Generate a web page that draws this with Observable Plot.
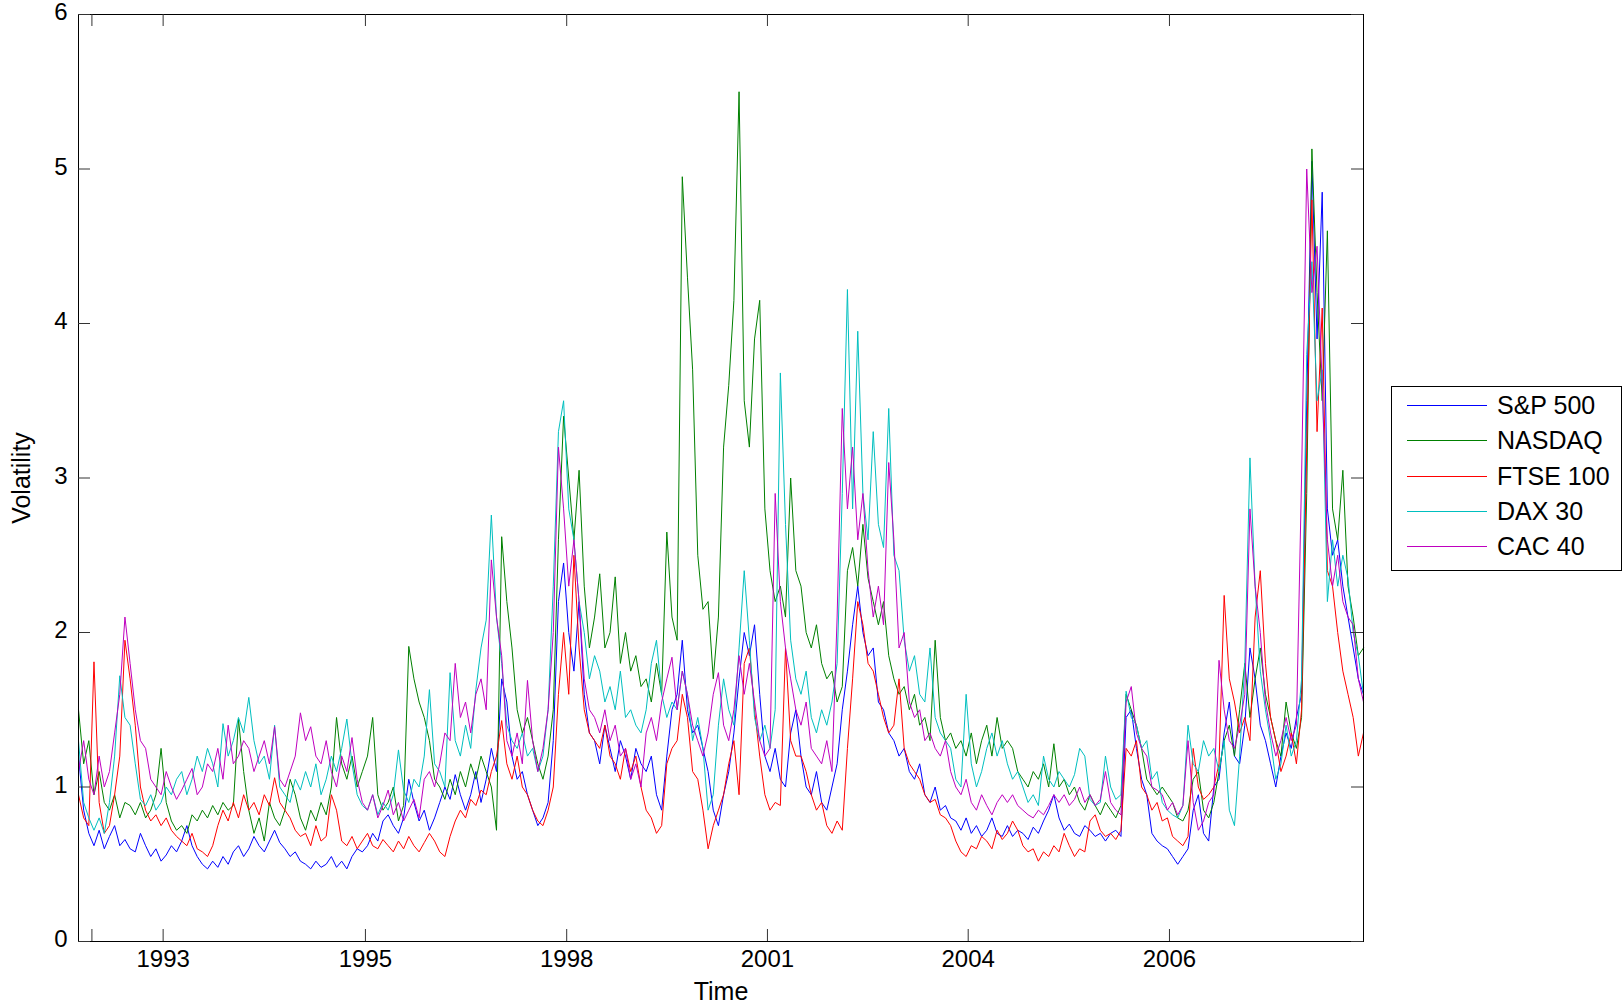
<!DOCTYPE html>
<html>
<head>
<meta charset="utf-8">
<script src="https://cdn.jsdelivr.net/npm/d3@7"></script>
<script src="https://cdn.jsdelivr.net/npm/@observablehq/plot@0.6"></script>
<style>
html, body { margin: 0; padding: 0; background: #fff; }
#wrap { position: relative; width: 1624px; height: 1006px; font-family: "Liberation Sans", Arial, Helvetica, sans-serif; }
#legend { position: absolute; left: 1391px; top: 386px; width: 231px; height: 185px; border: 1px solid #000; box-sizing: border-box; background: #fff; }
.item { position: absolute; left: 0; display: flex; align-items: center; font-size: 25px; color: #000; white-space: nowrap; }
.item svg { display: block; }
</style>
</head>
<body>
<div id="wrap"><div id="chart"></div><div id="legend"></div></div>
<script>
// ---- data (volatility, one sample every ~5 px of the original time axis) ----
const seriesNames = ["S&P 500", "NASDAQ", "FTSE 100", "DAX 30", "CAC 40"];
const seriesColors = ["#0000ff", "#008000", "#ff0000", "#00bfbf", "#bf00bf"];

const sp500 = [
1.2,0.85,0.7,0.62,0.72,0.6,0.68,0.75,0.62,0.66,
0.6,0.58,0.7,0.62,0.55,0.6,0.52,0.56,0.62,0.58,
0.65,0.75,0.62,0.55,0.5,0.47,0.52,0.48,0.55,0.5,
0.58,0.62,0.55,0.6,0.68,0.62,0.58,0.65,0.72,0.64,
0.6,0.55,0.58,0.52,0.5,0.47,0.52,0.48,0.5,0.55,
0.48,0.52,0.47,0.55,0.6,0.58,0.62,0.7,0.65,0.78,
0.82,0.75,0.7,0.8,1.05,0.9,0.78,0.85,0.72,0.8,
0.9,1.0,0.92,1.08,0.95,0.85,0.95,1.1,0.9,1.05,
1.25,1.1,1.7,1.55,1.2,1.05,1.1,0.95,0.85,0.75,
0.8,0.9,1.3,2.2,2.45,2.0,1.75,2.2,1.6,1.35,
1.3,1.15,1.4,1.25,1.1,1.3,1.2,1.05,1.25,1.15,
1.1,1.2,0.95,0.85,1.2,1.5,1.6,1.95,1.5,1.35,
1.4,1.25,1.1,0.85,0.75,0.95,1.1,1.35,1.7,2.0,
1.85,2.05,1.6,1.2,1.1,1.25,1.05,1.0,1.35,1.5,
1.2,1.0,0.95,1.1,0.9,0.85,1.0,1.15,1.5,1.75,
2.05,2.3,2.0,1.85,1.9,1.55,1.5,1.35,1.3,1.2,
1.25,1.1,1.05,1.15,0.95,0.9,1.0,0.85,0.88,0.8,
0.78,0.72,0.8,0.7,0.75,0.68,0.72,0.8,0.7,0.68,
0.75,0.68,0.72,0.7,0.66,0.74,0.7,0.78,0.85,0.95,
0.8,0.72,0.76,0.7,0.68,0.75,0.72,0.68,0.7,0.65,
0.7,0.72,0.68,1.45,1.5,1.25,1.05,0.95,0.7,0.65,
0.62,0.6,0.55,0.5,0.55,0.6,0.85,0.95,0.7,0.65,
1.0,1.05,1.35,1.55,1.2,1.15,1.4,1.9,1.7,1.4,
1.3,1.15,1.0,1.2,1.35,1.25,1.45,1.6,3.5,5.05,
3.9,4.85,2.8,2.5,2.6,2.3,2.1,1.9,1.7,1.6
];

const nasdaq = [
1.5,1.15,1.3,0.95,1.1,0.9,0.85,0.95,0.8,0.9,
0.88,0.82,0.9,0.8,0.85,0.95,1.25,0.9,0.78,0.72,
0.75,0.7,0.82,0.78,0.85,0.8,0.88,0.82,0.9,0.85,
0.88,1.44,1.1,0.85,0.7,0.8,0.65,0.9,0.8,0.75,
0.85,1.05,0.95,0.8,0.72,0.85,0.78,0.9,0.82,1.0,
1.45,1.15,1.05,1.2,1.0,1.1,1.2,1.45,0.95,0.85,
0.9,1.0,0.78,0.88,1.91,1.7,1.55,1.45,1.3,1.05,
1.0,0.92,1.05,0.95,1.1,1.0,1.15,1.05,1.2,1.1,
1.0,0.72,2.62,2.2,1.9,1.5,1.35,1.45,1.3,1.15,
1.05,1.2,1.5,2.6,3.4,3.0,2.6,3.05,2.3,1.9,
2.1,2.38,1.9,2.0,2.36,1.8,2.0,1.75,1.85,1.65,
1.7,1.55,1.8,1.6,2.65,2.1,1.95,4.95,4.3,3.7,
2.5,2.15,2.2,1.7,2.1,3.2,3.6,4.15,5.5,3.5,
3.2,3.9,4.15,2.8,2.4,2.2,2.3,2.1,3.0,2.4,
2.3,2.0,1.9,2.05,1.8,1.7,1.75,1.55,1.65,2.4,
2.55,2.3,2.7,2.35,2.2,2.05,2.2,1.85,1.7,1.6,
1.65,1.5,1.6,1.4,1.45,1.3,1.95,1.45,1.3,1.35,
1.25,1.3,1.2,1.35,1.15,1.3,1.4,1.2,1.45,1.25,
1.3,1.25,1.1,1.05,1.0,1.1,1.05,1.15,1.0,1.28,
1.0,1.05,0.95,1.0,0.9,0.85,0.95,0.88,0.82,0.9,
0.85,0.8,0.88,1.6,1.5,1.4,1.25,1.05,1.0,0.95,
1.0,0.95,0.9,0.8,0.78,0.85,1.05,1.1,0.85,0.8,
0.9,1.1,1.3,1.4,1.2,1.5,1.8,1.45,1.7,1.9,
1.6,1.45,1.3,1.2,1.55,1.35,1.25,1.45,2.9,5.13,
4.2,3.5,4.6,2.8,2.6,3.05,2.3,2.1,1.85,1.9
];

const ftse100 = [
0.95,0.8,0.75,1.81,0.9,0.7,0.75,0.95,1.2,1.95,
1.7,1.4,1.0,0.85,0.78,0.82,0.75,0.8,0.72,0.68,
0.65,0.62,0.7,0.6,0.58,0.55,0.62,0.75,0.85,0.78,
0.9,0.8,0.95,0.85,0.9,0.82,0.95,0.88,1.06,0.9,
0.85,0.8,0.72,0.68,0.7,0.62,0.75,0.65,0.68,0.95,
0.85,0.65,0.62,0.68,0.6,0.65,0.7,0.62,0.6,0.66,
0.62,0.58,0.65,0.6,0.68,0.62,0.58,0.64,0.7,0.65,
0.58,0.55,0.68,0.78,0.85,0.8,0.92,0.88,0.98,0.95,
1.1,1.2,1.43,1.15,1.05,1.2,1.0,0.95,0.85,0.78,
0.75,0.85,1.0,1.6,2.0,1.6,2.5,1.9,1.5,1.35,
1.3,1.25,1.4,1.2,1.15,1.05,1.25,1.1,1.2,1.0,
0.85,0.8,0.7,0.75,1.15,1.25,1.3,1.6,1.45,1.1,
1.05,0.85,0.6,0.75,0.85,0.95,1.15,1.3,0.95,1.8,
1.9,1.5,1.2,0.95,0.85,0.9,0.88,1.9,1.3,1.2,
1.2,1.1,0.95,0.85,0.9,0.75,0.7,0.78,0.72,1.25,
1.7,2.2,2.05,1.8,1.75,1.6,1.45,1.35,1.4,1.7,
1.25,1.15,1.1,1.05,0.95,0.9,0.92,0.82,0.8,0.75,
0.65,0.58,0.55,0.62,0.6,0.68,0.65,0.6,0.72,0.66,
0.7,0.78,0.72,0.62,0.58,0.6,0.52,0.58,0.55,0.62,
0.58,0.7,0.62,0.55,0.6,0.58,0.78,0.82,0.72,0.68,
0.7,0.66,0.72,1.25,1.2,1.3,1.0,0.95,0.85,0.9,
0.78,0.8,0.68,0.65,0.62,0.68,1.25,1.0,0.92,0.95,
1.0,1.15,2.24,1.7,1.55,1.35,1.45,1.3,2.1,2.4,
1.8,1.45,1.3,1.1,1.2,1.35,1.15,1.5,3.2,4.8,
3.3,4.1,2.4,2.3,2.0,1.75,1.6,1.45,1.2,1.35
];

const dax30 = [
1.3,0.9,0.8,0.72,0.8,0.7,0.9,1.2,1.72,1.45,
1.4,1.15,0.92,0.88,0.95,0.85,0.9,1.0,0.95,1.05,
1.1,0.95,1.05,1.2,1.1,1.25,1.15,1.0,1.41,1.2,
1.3,1.45,1.35,1.58,1.3,1.15,1.2,1.05,1.4,1.0,
0.95,0.9,1.05,0.98,1.1,1.0,1.15,0.95,1.05,1.2,
1.1,1.25,1.44,1.15,0.95,0.88,0.85,0.95,0.82,0.9,
0.85,0.95,1.24,0.98,0.9,1.05,1.0,1.2,1.63,1.15,
1.1,1.0,1.74,1.3,1.2,1.4,1.25,1.63,1.9,2.08,
2.76,2.1,1.8,1.4,1.3,1.25,1.35,1.2,1.25,1.1,
1.2,1.5,2.3,3.3,3.5,2.8,2.6,2.2,2.0,1.7,
1.85,1.75,1.55,1.65,1.5,1.75,1.45,1.5,1.4,1.35,
1.5,1.8,1.95,1.6,1.45,1.55,1.5,1.75,1.6,1.3,
1.45,1.25,0.85,0.95,1.4,1.7,1.5,1.4,1.9,2.4,
1.95,1.45,1.3,1.4,1.25,1.5,3.68,2.7,1.95,1.7,
1.6,1.75,1.45,1.35,1.5,1.4,1.55,1.8,2.9,4.22,
2.8,3.95,2.9,2.6,3.3,2.7,2.55,3.45,2.5,2.4,
1.95,1.75,1.85,1.6,1.55,1.9,1.45,1.35,1.3,1.25,
1.05,1.0,1.6,1.15,1.0,1.1,1.25,1.35,1.2,1.3,
1.15,1.05,1.1,1.0,0.9,0.95,0.88,1.2,1.05,1.0,
1.1,1.05,1.0,1.08,1.25,1.2,0.92,0.88,0.9,1.2,
1.0,0.92,0.95,1.62,1.45,1.4,1.25,1.3,1.05,1.1,
0.9,0.85,0.82,0.8,0.88,1.4,1.15,1.1,1.3,1.2,
1.25,1.1,1.3,0.85,0.75,1.2,1.8,3.13,2.3,1.75,
1.5,1.3,1.05,1.15,1.4,1.2,1.3,1.7,3.8,4.4,
3.5,3.7,2.2,2.6,2.3,2.5,2.35,2.0,1.85,1.6
];

const cac40 = [
1.1,1.3,1.05,0.95,1.2,1.0,1.1,1.35,1.6,2.1,
1.8,1.5,1.3,1.25,1.05,1.0,0.95,1.1,1.0,0.92,
0.98,1.05,1.12,0.95,1.0,1.15,1.1,1.25,1.05,1.4,
1.15,1.2,1.3,1.25,1.1,1.2,1.3,1.15,1.39,1.05,
1.0,1.1,1.2,1.48,1.3,1.39,1.2,1.15,1.3,1.1,
1.0,1.2,1.1,1.32,1.05,0.9,0.85,0.95,0.8,0.88,
0.98,0.82,0.9,0.78,0.85,0.92,0.8,1.05,1.1,1.0,
1.15,1.35,1.3,1.8,1.45,1.55,1.35,1.6,1.7,1.5,
2.47,2.1,1.85,1.3,1.2,1.35,1.15,1.69,1.3,1.1,
1.25,1.5,2.0,3.2,2.8,2.3,2.6,2.2,1.7,1.5,
1.45,1.35,1.5,1.3,1.4,1.2,1.25,1.05,1.15,1.0,
1.35,1.45,1.3,1.55,1.7,1.84,1.5,1.75,1.6,1.4,
1.3,1.2,1.35,1.6,1.74,1.4,1.3,1.5,1.85,1.6,
1.8,1.55,1.3,1.2,1.25,2.9,2.2,1.9,1.7,1.5,
1.4,1.55,1.25,1.2,1.15,1.3,1.1,2.1,3.45,2.8,
3.2,2.6,2.9,2.4,2.1,2.3,2.05,3.1,2.6,1.9,
2.0,1.55,1.45,1.5,1.3,1.35,1.25,1.2,1.3,1.1,
1.0,0.95,1.05,0.9,0.85,0.95,0.88,0.82,0.9,0.95,
0.9,0.95,0.88,0.85,0.82,0.8,0.85,0.82,0.88,0.95,
0.9,0.95,0.88,0.92,1.0,0.9,0.95,0.88,0.92,1.1,
0.9,0.85,0.82,1.55,1.65,1.35,1.25,1.2,1.0,0.98,
0.95,0.85,0.9,0.82,0.88,1.3,0.9,0.72,0.78,0.9,
0.95,1.82,1.5,1.3,1.25,1.4,1.6,2.8,2.3,2.0,
1.55,1.35,1.2,1.3,1.45,1.3,1.4,3.0,5.0,4.2,
4.5,3.6,2.6,2.3,2.5,2.2,2.1,2.05,1.7,1.55
];

// x-axis ticks (positions in sample index) and labels
const xTickPos = [2.6, 16.4, 55.6, 94.6, 133.5, 172.4, 211.4];
const xTickLabels = ["", "1993", "1995", "1998", "2001", "2004", "2006"];
const yTicks = [0, 1, 2, 3, 4, 5, 6];
const xTitle = "Time";
const yTitle = "Volatility";

// ---- build ----
const allSeries = [sp500, nasdaq, ftse100, dax30, cac40];
const N = sp500.length;
const W = 1624, H = 1006;
const mL = 78, mR = 261, mT = 14, mB = 65;
const innerW = W - mL - mR, innerH = H - mT - mB;
const tickLen = 12;
const font = '"Liberation Sans", Arial, Helvetica, sans-serif';

const lineMarks = allSeries.map((vals, k) =>
  Plot.line(vals.map((v, i) => ({i, v})), {x: "i", y: "v", stroke: seriesColors[k], strokeWidth: 1})
);

const xTickData = xTickPos.map((p, k) => ({p, label: xTickLabels[k]}));

const chart = Plot.plot({
  width: W, height: H,
  marginLeft: mL, marginRight: mR, marginTop: mT, marginBottom: mB,
  x: {domain: [0, N - 1], axis: null},
  y: {domain: [0, 6], axis: null},
  style: {fontFamily: font, background: "#fff", overflow: "visible"},
  marks: [
    ...lineMarks,
    Plot.frame({stroke: "#000", strokeWidth: 1}),
    Plot.tickX(xTickPos, {x: d => d, insetTop: innerH - tickLen, stroke: "#333"}),
    Plot.tickX(xTickPos, {x: d => d, insetBottom: innerH - tickLen, stroke: "#333"}),
    Plot.tickY(yTicks, {y: d => d, insetRight: innerW - tickLen, stroke: "#333"}),
    Plot.tickY(yTicks, {y: d => d, insetLeft: innerW - tickLen, stroke: "#333"}),
    Plot.text(xTickData, {x: "p", text: "label", frameAnchor: "bottom", dy: 25, fontSize: 24, fill: "#000"}),
    Plot.text(yTicks, {y: d => d, text: d => String(d), frameAnchor: "left", dx: -11, dy: -2, textAnchor: "end", fontSize: 24, fill: "#000"}),
    Plot.text([xTitle], {frameAnchor: "bottom", dy: 58, textAnchor: "middle", fontSize: 25, fill: "#000"}),
    Plot.text([yTitle], {frameAnchor: "left", dx: -57, rotate: -90, textAnchor: "middle", fontSize: 25, fill: "#000"})
  ]
});
document.getElementById("chart").appendChild(chart);

// ---- legend ----
const legend = document.getElementById("legend");
const rowTop = 18, rowStep = 35.3;
seriesNames.forEach((name, k) => {
  const item = document.createElement("div");
  item.className = "item";
  item.style.top = Math.round(rowTop + k * rowStep - 15) + "px";
  item.style.height = "30px";
  item.innerHTML = `<svg width="105" height="30"><line x1="15" x2="95" y1="15.5" y2="15.5" stroke="${seriesColors[k]}" stroke-width="1"/></svg><span>${name}</span>`;
  legend.appendChild(item);
});
</script>
</body>
</html>
